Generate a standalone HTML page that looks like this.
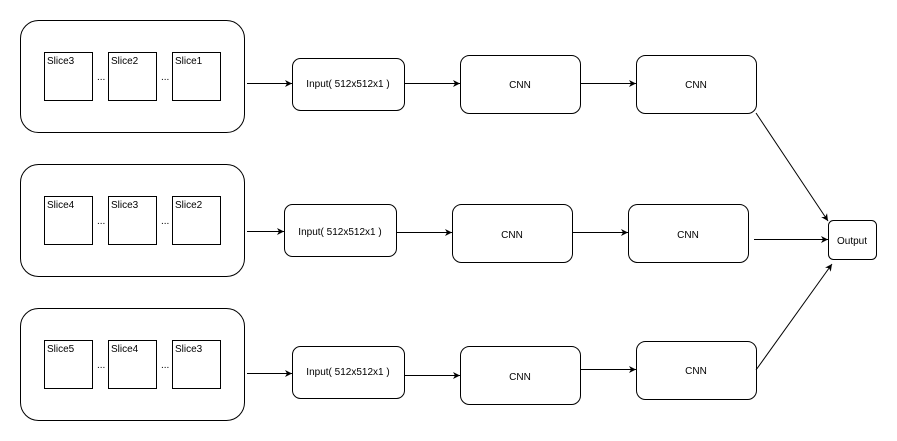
<!DOCTYPE html>
<html><head><style>body{margin:0;background:#fff}svg{display:block}text{font-family:"Liberation Sans",sans-serif;font-size:10px;fill:#000}</style></head><body>
<svg width="897" height="441" viewBox="0 0 897 441" xmlns="http://www.w3.org/2000/svg">
<defs><marker id="a" markerWidth="8" markerHeight="8" refX="7" refY="4" orient="auto" markerUnits="userSpaceOnUse"><path d="M0,0.5 L7,4 L0,7.5 L2,4 Z" fill="#000"/></marker></defs>
<g fill="none" stroke="#000" stroke-width="1">
<rect x="20.5" y="20.5" width="224" height="112" rx="18"/>
<rect x="20.5" y="164.5" width="224" height="112" rx="18"/>
<rect x="20.5" y="308.5" width="224" height="112" rx="18"/>
<rect x="44.5" y="52.5" width="48" height="48"/><rect x="108.5" y="52.5" width="48" height="48"/><rect x="172.5" y="52.5" width="48" height="48"/>
<rect x="44.5" y="196.5" width="48" height="48"/><rect x="108.5" y="196.5" width="48" height="48"/><rect x="172.5" y="196.5" width="48" height="48"/>
<rect x="44.5" y="340.5" width="48" height="48"/><rect x="108.5" y="340.5" width="48" height="48"/><rect x="172.5" y="340.5" width="48" height="48"/>
<rect x="292.5" y="58.5" width="112" height="52" rx="8"/>
<rect x="284.5" y="204.5" width="112" height="52" rx="8"/>
<rect x="292.5" y="346.5" width="112" height="52" rx="8"/>
<rect x="460.5" y="55.5" width="120" height="58" rx="9"/>
<rect x="452.5" y="204.5" width="120" height="58" rx="9"/>
<rect x="460.5" y="346.5" width="120" height="58" rx="9"/>
<rect x="636.5" y="55.5" width="120" height="58" rx="9"/>
<rect x="628.5" y="204.5" width="120" height="58" rx="9"/>
<rect x="636.5" y="341.5" width="120" height="58" rx="9"/>
<rect x="828.5" y="220.5" width="48" height="39" rx="5"/>
<g marker-end="url(#a)">
<line x1="247" y1="83.5" x2="292" y2="83.5"/>
<line x1="404" y1="83.5" x2="460" y2="83.5"/>
<line x1="580" y1="83.5" x2="636" y2="83.5"/>
<line x1="247" y1="231.5" x2="284" y2="231.5"/>
<line x1="396" y1="232.5" x2="452" y2="232.5"/>
<line x1="572" y1="232.5" x2="628" y2="232.5"/>
<line x1="754" y1="239.5" x2="828" y2="239.5"/>
<line x1="247" y1="373.5" x2="292" y2="373.5"/>
<line x1="404" y1="375.5" x2="460" y2="375.5"/>
<line x1="580" y1="369.5" x2="636" y2="369.5"/>
<line x1="756" y1="113" x2="828" y2="221"/>
<line x1="756" y1="370" x2="832" y2="264"/>
</g></g>
<text x="47" y="64">Slice3</text><text x="111" y="64">Slice2</text><text x="175" y="64">Slice1</text>
<text x="47" y="208">Slice4</text><text x="111" y="208">Slice3</text><text x="175" y="208">Slice2</text>
<text x="47" y="352">Slice5</text><text x="111" y="352">Slice4</text><text x="175" y="352">Slice3</text>
<text x="97" y="80">...</text><text x="161" y="80">...</text>
<text x="97" y="224">...</text><text x="161" y="224">...</text>
<text x="97" y="368">...</text><text x="161" y="368">...</text>
<g text-anchor="middle">
<text x="348" y="87">Input( 512x512x1 )</text>
<text x="340" y="235">Input( 512x512x1 )</text>
<text x="348" y="375">Input( 512x512x1 )</text>
<text x="520" y="88">CNN</text><text x="512" y="238">CNN</text><text x="520" y="380">CNN</text>
<text x="696" y="88">CNN</text><text x="688" y="238">CNN</text><text x="696" y="374">CNN</text>
<text x="852" y="244">Output</text>
</g>
</svg>
</body></html>
